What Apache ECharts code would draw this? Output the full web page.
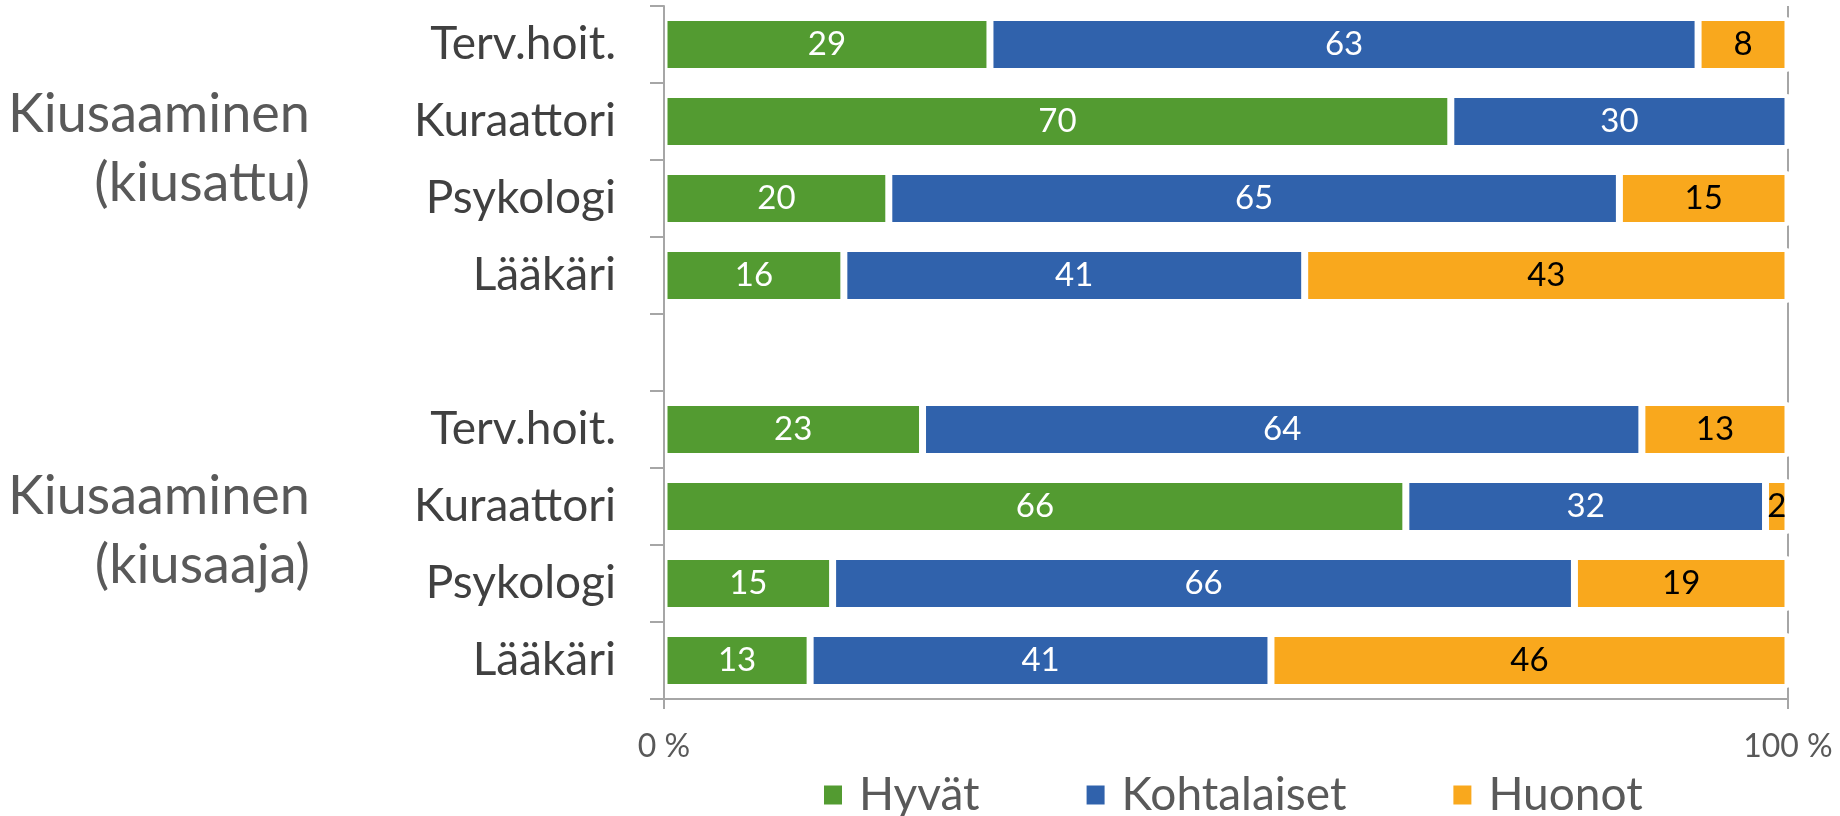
<!DOCTYPE html>
<html>
<head>
<meta charset="utf-8">
<script src="https://cdn.jsdelivr.net/npm/echarts@6/dist/echarts.min.js"></script>
<style>
  html, body { margin: 0; padding: 0; background: #fff; }
  #chart { width: 1840px; height: 816px; }
</style>
</head>
<body>
<div id="chart"></div>
<script>
// categories top to bottom, '' is the spacer row between the two groups
const categories = ['Terv.hoit.', 'Kuraattori', 'Psykologi', 'Lääkäri', '', 'Terv.hoit.', 'Kuraattori', 'Psykologi', 'Lääkäri']
const groupLabels = ['Kiusaaminen\n(kiusattu)', 'Kiusaaminen\n(kiusaaja)']
const hyvat = [29, 70, 20, 16, '-', 23, 66, 15, 13]
const kohtalaiset = [63, 30, 65, 41, '-', 64, 32, 66, 41]
const huonot = [8, 0, 15, 43, '-', 13, 2, 19, 46]
const seriesNames = ['Hyvät', 'Kohtalaiset', 'Huonot']
const xTicks = [0, 100]

const font = 'Lato'
const gray = '#A6A6A6'
const gridTop = 6
const gridBottom = 117
const gapRatio = 0.3

// the 100 % gridline only shows between the bars (the bars' white edge hides it)
const band = (816 - gridTop - gridBottom) / categories.length
const barH = band * (1 - gapRatio)
const gridDash = []
let run = (band - barH) / 2
categories.forEach((c, i) => {
  if (c === '') { run += band; return }
  gridDash.push(run, barH)
  run = band - barH
})
gridDash.push(run / 2 + 1)

const chart = echarts.init(document.getElementById('chart'))

const makeSeries = (name, data, color, labelColor) => ({
  name,
  type: 'bar',
  stack: 'total',
  data,
  barCategoryGap: gapRatio * 100 + '%',
  itemStyle: { color, borderColor: '#fff', borderWidth: 3.5 },
  label: {
    show: true,
    position: 'inside',
    color: labelColor,
    fontFamily: font,
    fontSize: 33,
    formatter: p => (p.value ? p.value : '')
  },
  emphasis: { disabled: true }
})

const option = {
  animation: false,
  backgroundColor: '#fff',
  grid: { left: 664, right: 52, top: gridTop, bottom: gridBottom },
  legend: {
    data: seriesNames,
    left: 817,
    top: 765,
    icon: 'rect',
    itemWidth: 20,
    itemHeight: 21,
    itemGap: 105,
    textStyle: { fontFamily: font, fontSize: 46, color: '#595959', padding: [0, 0, 0, 11], lineHeight: 50 }
  },
  xAxis: {
    type: 'value',
    min: xTicks[0],
    max: xTicks[1],
    interval: 100,
    axisLine: { show: true, lineStyle: { color: gray, width: 2 } },
    axisTick: { show: true, length: 10, lineStyle: { color: gray, width: 2 } },
    splitLine: { show: true, lineStyle: { color: gray, width: 2, type: gridDash } },
    axisLabel: { formatter: '{value} %', fontFamily: font, fontSize: 32, color: '#595959', margin: 32 }
  },
  yAxis: {
    type: 'category',
    inverse: true,
    data: categories,
    z: 5,
    axisLine: { show: true, lineStyle: { color: gray, width: 2 } },
    axisTick: { show: true, length: 14, lineStyle: { color: gray, width: 2 } },
    axisLabel: { fontFamily: font, fontSize: 46, color: '#404040', margin: 48 }
  },
  graphic: [
    {
      type: 'text', x: 310, y: 149,
      style: { text: groupLabels[0], fontFamily: font, fontSize: 54, lineHeight: 69, fill: '#595959', align: 'right', verticalAlign: 'middle' }
    },
    {
      type: 'text', x: 310, y: 531,
      style: { text: groupLabels[1], fontFamily: font, fontSize: 54, lineHeight: 69, fill: '#595959', align: 'right', verticalAlign: 'middle' }
    }
  ],
  series: [
    makeSeries(seriesNames[0], hyvat, '#539B31', '#fff'),
    makeSeries(seriesNames[1], kohtalaiset, '#3062AC', '#fff'),
    makeSeries(seriesNames[2], huonot, '#F9A81D', '#000')
  ]
}

chart.setOption(option)
</script>
</body>
</html>
